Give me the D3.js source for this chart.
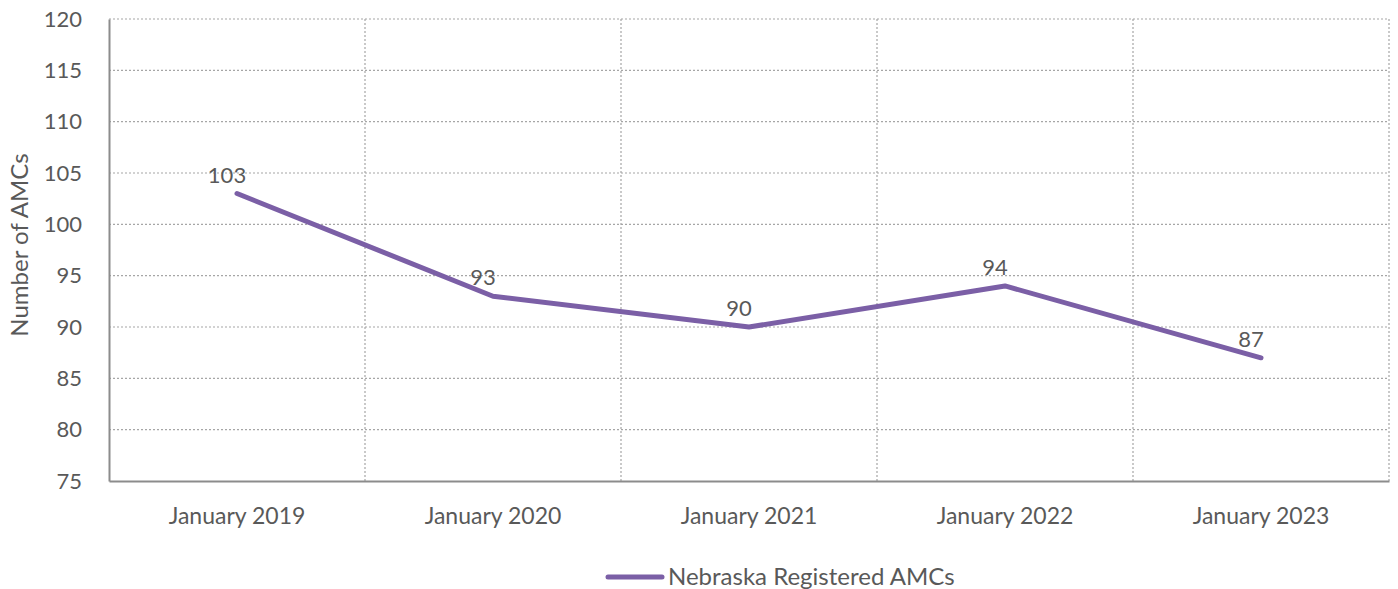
<!DOCTYPE html>
<html>
<script src="https://d3js.org/d3.v7.min.js"></script>
<style>
    body { margin: 0; background: #fff; }
    text { font-family: Lato, "Open Sans", sans-serif; fill: #595959; }
</style>
<body>
    <svg width="1398" height="589"></svg>
    <script>
        const categories = ['January 2019', 'January 2020', 'January 2021', 'January 2022', 'January 2023'];
        const amcs = [103, 93, 90, 94, 87];
        const yTicks = [75, 80, 85, 90, 95, 100, 105, 110, 115, 120];
        const seriesName = 'Nebraska Registered AMCs';

        const svg = d3.select('svg');
        const plotLeft = 109, plotRight = 1389, plotTop = 19, plotBottom = 481;
        const purple = '#7b5fa6';

        const x = d3.scaleBand().domain(categories).range([plotLeft, plotRight]);
        const y = d3.scaleLinear().domain([75, 120]).range([plotBottom, plotTop]);

        // horizontal gridlines
        svg.append('g').selectAll('line')
            .data(yTicks.slice(1))
            .enter().append('line')
            .attr('x1', plotLeft).attr('x2', plotRight)
            .attr('y1', d => y(d)).attr('y2', d => y(d))
            .attr('stroke', '#a6a6a6').attr('stroke-width', 1.2)
            .attr('stroke-dasharray', '2,2');

        // vertical gridlines between categories
        const bounds = categories.slice(1).map(c => x(c)).concat([plotRight]);
        svg.append('g').selectAll('line')
            .data(bounds)
            .enter().append('line')
            .attr('x1', d => d).attr('x2', d => d)
            .attr('y1', plotTop).attr('y2', plotBottom)
            .attr('stroke', '#a6a6a6').attr('stroke-width', 1.2)
            .attr('stroke-dasharray', '2,2');

        // axes
        const yAxis = svg.append('g').attr('transform', `translate(${plotLeft},0)`)
            .call(d3.axisLeft(y).tickValues(yTicks).tickSize(0).tickPadding(27));
        yAxis.select('.domain').attr('stroke', '#8c8c8c').attr('stroke-width', 2);
        yAxis.selectAll('text').style('font-size', '22px').attr('fill', '#595959');

        const xAxis = svg.append('g').attr('transform', `translate(0,${plotBottom})`)
            .call(d3.axisBottom(x).tickSize(0).tickPadding(27));
        xAxis.select('.domain').attr('stroke', '#8c8c8c').attr('stroke-width', 2);
        xAxis.selectAll('text').style('font-size', '23px').attr('fill', '#595959');

        svg.append('text')
            .attr('transform', `translate(28,${(plotTop + plotBottom) / 2 - 5}) rotate(-90)`)
            .attr('text-anchor', 'middle')
            .style('font-size', '24px')
            .text('Number of AMCs');

        // series line
        const line = d3.line()
            .x((d, i) => x(categories[i]) + x.bandwidth() / 2)
            .y(d => y(d));

        svg.append('path')
            .datum(amcs)
            .attr('d', line)
            .attr('fill', 'none')
            .attr('stroke', purple)
            .attr('stroke-width', 5)
            .attr('stroke-linecap', 'round')
            .attr('stroke-linejoin', 'round');

        // data labels
        svg.append('g').selectAll('text')
            .data(amcs)
            .enter().append('text')
            .attr('x', (d, i) => x(categories[i]) + x.bandwidth() / 2 - 10)
            .attr('y', d => y(d) - 11)
            .attr('text-anchor', 'middle')
            .style('font-size', '22px')
            .text(d => d);

        // legend
        const lg = svg.append('g').attr('transform', 'translate(608,577)');
        lg.append('line').attr('x1', 0).attr('x2', 54)
            .attr('stroke', purple).attr('stroke-width', 5).attr('stroke-linecap', 'round');
        lg.append('text').attr('x', 60).attr('y', 8)
            .style('font-size', '24px')
            .text(seriesName);
    </script>
</body>
</html>
